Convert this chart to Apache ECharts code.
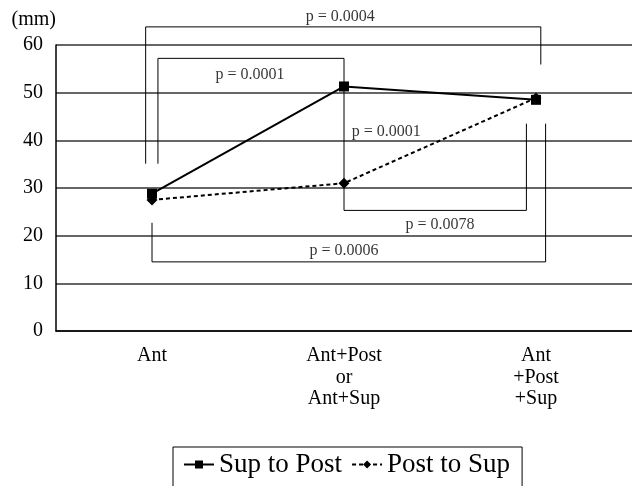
<!DOCTYPE html>
<html><head><meta charset="utf-8">
<script src="https://cdn.jsdelivr.net/npm/echarts@6/dist/echarts.min.js"></script>
<style>html,body{margin:0;padding:0;background:#fff}#c{width:632px;height:486px}</style>
</head><body><div id="c"></div>
<script>
const categories = ['Ant', 'Ant+Post\nor\nAnt+Sup', 'Ant\n+Post\n+Sup'];
const supToPost = [28.8, 51.3, 48.5];
const postToSup = [27.5, 31.0, 48.9];
const yTicks = {min: 0, max: 60, interval: 10};

// significance brackets: paths in (category position, mm) space
const bracket0004 = [[-0.033, 35.1], [-0.033, 63.8], [2.025, 63.8], [2.025, 55.9]];
const bracket0001a = [[0.031, 35.1], [0.031, 57.2], [1.0, 57.2], [1.0, 51.3]];
const bracket0001b = [[1.0, 51.3], [1.0, 25.3], [1.95, 25.3], [1.95, 43.5]];
const bracket0006 = [[0.0, 22.7], [0.0, 14.5], [2.05, 14.5], [2.05, 43.5]];
const pLabels = [
  {name: 'p = 0.0004', value: [0.98, 65.9]},
  {name: 'p = 0.0001', value: [0.51, 53.8]},
  {name: 'p = 0.0001', value: [1.22, 41.7]},
  {name: 'p = 0.0078', value: [1.50, 22.2]},
  {name: 'p = 0.0006', value: [1.00, 16.8]}
];

const serif = '"Liberation Serif", "Times New Roman", serif';
const chart = echarts.init(document.getElementById('c'));

function bracket(path) {
  return {
    type: 'line', xAxisIndex: 1, data: path, symbol: 'none', silent: true, clip: false,
    lineStyle: {color: '#000', width: 1}, z: 1, animation: false
  };
}

chart.setOption({
  animation: false,
  textStyle: {fontFamily: serif, color: '#000'},
  grid: {left: 56, right: 0, top: 45, bottom: 155},
  xAxis: [{
    type: 'category', data: categories, boundaryGap: true,
    axisLine: {onZero: false, lineStyle: {color: '#000', width: 1.5}},
    axisTick: {inside: true, length: 4, lineStyle: {color: '#000'}},
    axisLabel: {color: '#000', fontFamily: serif, fontSize: 20, lineHeight: 21.5, margin: 14}
  }, {
    type: 'value', min: -0.5, max: 2.5, show: false
  }],
  yAxis: {
    type: 'value', min: yTicks.min, max: yTicks.max, interval: yTicks.interval,
    name: '(mm)', nameLocation: 'end', nameGap: 15,
    nameTextStyle: {color: '#000', fontFamily: serif, fontSize: 20, align: 'right', padding: [0, 0, 0, 0]},
    axisLine: {show: true, onZero: false, lineStyle: {color: '#000', width: 1.5}},
    axisTick: {show: false},
    axisLabel: {color: '#000', fontFamily: serif, fontSize: 20, margin: 13},
    splitLine: {lineStyle: {color: '#333', width: 1.5}}
  },
  legend: {
    data: ['Sup to Post', 'Post to Sup'],
    top: 447, left: 173,
    borderColor: '#000', borderWidth: 1,
    padding: [4, 12, 20, 10], itemGap: 9,
    itemWidth: 30, itemHeight: 10,
    textStyle: {fontFamily: serif, fontSize: 27, color: '#000'}
  },
  series: [
    bracket(bracket0004), bracket(bracket0001a), bracket(bracket0001b), bracket(bracket0006),
    {
      type: 'scatter', xAxisIndex: 1, data: pLabels, symbolSize: 0, silent: true, z: 5, clip: false,
      label: {show: true, position: 'inside', formatter: p => p.name,
        fontFamily: serif, fontSize: 16, color: '#000'}
    },
    {
      name: 'Sup to Post', type: 'line', data: supToPost, z: 10,
      symbol: 'rect', symbolSize: 10,
      lineStyle: {color: '#000', width: 2}, itemStyle: {color: '#000'}
    },
    {
      name: 'Post to Sup', type: 'line', data: postToSup, z: 10,
      symbol: 'diamond', symbolSize: 11,
      lineStyle: {color: '#000', width: 2, type: [4, 3]}, itemStyle: {color: '#000'}
    }
  ]
});
</script></body></html>
